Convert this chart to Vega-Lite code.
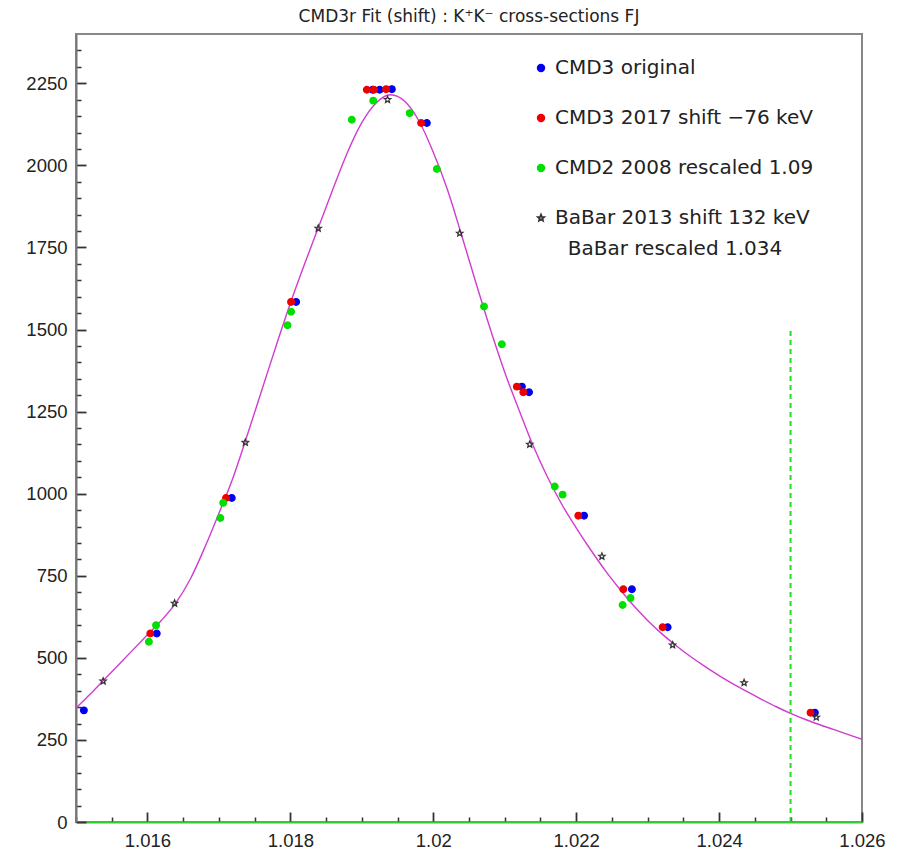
{
  "$schema": "https://vega.github.io/schema/vega-lite/v6.json",
  "width": 786,
  "height": 788,
  "autosize": {"type": "none"},
  "padding": {"left": 76, "top": 34, "right": 38, "bottom": 27},
  "background": "white",
  "title": {"text": "CMD3r Fit (shift) : K⁺K⁻ cross-sections FJ", "font": "DejaVu Sans", "fontSize": 17, "fontWeight": "normal", "color": "#222", "anchor": "middle", "offset": 8},
  "config": {"view": {"stroke": "#888", "strokeWidth": 2}},
  "resolve": {"axis": {"x": "independent", "y": "independent"}},
  "datasets": {
    "fit": [
      {"x": 1.0150, "y": 347}, {"x": 1.0152, "y": 390}, {"x": 1.0154, "y": 435}, {"x": 1.0156, "y": 480},
      {"x": 1.0158, "y": 525}, {"x": 1.0160, "y": 570}, {"x": 1.0162, "y": 615}, {"x": 1.0164, "y": 668},
      {"x": 1.0166, "y": 740}, {"x": 1.0168, "y": 835}, {"x": 1.0170, "y": 940}, {"x": 1.0172, "y": 1050},
      {"x": 1.0174, "y": 1180}, {"x": 1.0176, "y": 1315}, {"x": 1.0178, "y": 1450}, {"x": 1.0180, "y": 1580},
      {"x": 1.0182, "y": 1700}, {"x": 1.0184, "y": 1815}, {"x": 1.0186, "y": 1930}, {"x": 1.0188, "y": 2040},
      {"x": 1.0190, "y": 2130}, {"x": 1.0192, "y": 2190}, {"x": 1.0194, "y": 2215}, {"x": 1.0196, "y": 2195},
      {"x": 1.0198, "y": 2135}, {"x": 1.0200, "y": 2040}, {"x": 1.0202, "y": 1925}, {"x": 1.0204, "y": 1785},
      {"x": 1.0206, "y": 1640}, {"x": 1.0208, "y": 1500}, {"x": 1.0210, "y": 1370}, {"x": 1.0212, "y": 1255},
      {"x": 1.0214, "y": 1145}, {"x": 1.0216, "y": 1050}, {"x": 1.0218, "y": 967}, {"x": 1.0220, "y": 896},
      {"x": 1.0222, "y": 830}, {"x": 1.0224, "y": 768}, {"x": 1.0226, "y": 712}, {"x": 1.0228, "y": 660},
      {"x": 1.0230, "y": 614}, {"x": 1.0232, "y": 573}, {"x": 1.0234, "y": 537}, {"x": 1.0236, "y": 504},
      {"x": 1.0238, "y": 474}, {"x": 1.0240, "y": 446}, {"x": 1.0242, "y": 420}, {"x": 1.0244, "y": 396},
      {"x": 1.0246, "y": 373}, {"x": 1.0248, "y": 351}, {"x": 1.0250, "y": 331}, {"x": 1.0252, "y": 313},
      {"x": 1.0254, "y": 297}, {"x": 1.0256, "y": 282}, {"x": 1.0258, "y": 267}, {"x": 1.0260, "y": 252}
    ],
    "vline": [{"x": 1.025, "y": 0, "y2": 1500}],
    "pts": [
      {"s": "CMD3 original", "x": 1.01511, "y": 340},
      {"s": "CMD3 original", "x": 1.01613, "y": 574},
      {"s": "CMD3 original", "x": 1.01718, "y": 987},
      {"s": "CMD3 original", "x": 1.01808, "y": 1584},
      {"s": "CMD3 original", "x": 1.01915, "y": 2230},
      {"s": "CMD3 original", "x": 1.01925, "y": 2230},
      {"s": "CMD3 original", "x": 1.01942, "y": 2232},
      {"s": "CMD3 original", "x": 1.01991, "y": 2129},
      {"s": "CMD3 original", "x": 1.02124, "y": 1326},
      {"s": "CMD3 original", "x": 1.02134, "y": 1309},
      {"s": "CMD3 original", "x": 1.02211, "y": 933},
      {"s": "CMD3 original", "x": 1.02278, "y": 709},
      {"s": "CMD3 original", "x": 1.02328, "y": 593},
      {"s": "CMD3 original", "x": 1.02534, "y": 333},
      {"s": "CMD3 2017  shift −76 keV", "x": 1.01604, "y": 574},
      {"s": "CMD3 2017  shift −76 keV", "x": 1.01710, "y": 987},
      {"s": "CMD3 2017  shift −76 keV", "x": 1.01801, "y": 1584},
      {"s": "CMD3 2017  shift −76 keV", "x": 1.01907, "y": 2230},
      {"s": "CMD3 2017  shift −76 keV", "x": 1.01917, "y": 2230},
      {"s": "CMD3 2017  shift −76 keV", "x": 1.01934, "y": 2232},
      {"s": "CMD3 2017  shift −76 keV", "x": 1.01983, "y": 2129},
      {"s": "CMD3 2017  shift −76 keV", "x": 1.02117, "y": 1326},
      {"s": "CMD3 2017  shift −76 keV", "x": 1.02126, "y": 1309},
      {"s": "CMD3 2017  shift −76 keV", "x": 1.02203, "y": 933},
      {"s": "CMD3 2017  shift −76 keV", "x": 1.02266, "y": 709},
      {"s": "CMD3 2017  shift −76 keV", "x": 1.02321, "y": 593},
      {"s": "CMD3 2017  shift −76 keV", "x": 1.02528, "y": 333},
      {"s": "CMD2 2008 rescaled 1.09", "x": 1.01602, "y": 549},
      {"s": "CMD2 2008 rescaled 1.09", "x": 1.01612, "y": 599},
      {"s": "CMD2 2008 rescaled 1.09", "x": 1.01702, "y": 926},
      {"s": "CMD2 2008 rescaled 1.09", "x": 1.01706, "y": 972},
      {"s": "CMD2 2008 rescaled 1.09", "x": 1.01796, "y": 1513},
      {"s": "CMD2 2008 rescaled 1.09", "x": 1.01801, "y": 1554},
      {"s": "CMD2 2008 rescaled 1.09", "x": 1.01886, "y": 2139},
      {"s": "CMD2 2008 rescaled 1.09", "x": 1.01916, "y": 2197},
      {"s": "CMD2 2008 rescaled 1.09", "x": 1.01967, "y": 2159},
      {"s": "CMD2 2008 rescaled 1.09", "x": 1.02005, "y": 1989},
      {"s": "CMD2 2008 rescaled 1.09", "x": 1.02071, "y": 1570},
      {"s": "CMD2 2008 rescaled 1.09", "x": 1.02096, "y": 1455},
      {"s": "CMD2 2008 rescaled 1.09", "x": 1.02170, "y": 1022},
      {"s": "CMD2 2008 rescaled 1.09", "x": 1.02181, "y": 997},
      {"s": "CMD2 2008 rescaled 1.09", "x": 1.02265, "y": 661},
      {"s": "CMD2 2008 rescaled 1.09", "x": 1.02276, "y": 682},
      {"s": "BaBar 2013 shift 132 keV", "x": 1.01538, "y": 429},
      {"s": "BaBar 2013 shift 132 keV", "x": 1.01638, "y": 666},
      {"s": "BaBar 2013 shift 132 keV", "x": 1.01737, "y": 1156},
      {"s": "BaBar 2013 shift 132 keV", "x": 1.01839, "y": 1808},
      {"s": "BaBar 2013 shift 132 keV", "x": 1.01936, "y": 2200},
      {"s": "BaBar 2013 shift 132 keV", "x": 1.02037, "y": 1793},
      {"s": "BaBar 2013 shift 132 keV", "x": 1.02135, "y": 1150},
      {"s": "BaBar 2013 shift 132 keV", "x": 1.02236, "y": 809},
      {"s": "BaBar 2013 shift 132 keV", "x": 1.02335, "y": 539},
      {"s": "BaBar 2013 shift 132 keV", "x": 1.02435, "y": 424},
      {"s": "BaBar 2013 shift 132 keV", "x": 1.02536, "y": 319}
    ]
  },
  "layer": [
    {
      "data": {"name": "fit"},
      "mark": {"type": "line", "color": "#d03cd0", "strokeWidth": 1.4, "interpolate": "monotone", "clip": true},
      "encoding": {
        "x": {
          "field": "x", "type": "quantitative",
          "scale": {"domain": [1.015, 1.026], "nice": false, "zero": false},
          "axis": {
            "title": null, "orient": "bottom", "offset": -10, "domain": false,
            "values": [1.016, 1.018, 1.02, 1.022, 1.024, 1.026],
            "format": ".3~f",
            "labelFont": "Liberation Sans", "labelFontSize": 18.5, "labelColor": "#222",
            "labelPadding": 9, "labelFlush": false, "labelOverlap": false,
            "tickColor": "#333", "tickWidth": 1.8, "tickSize": 10,
            "grid": false
          }
        },
        "y": {
          "field": "y", "type": "quantitative",
          "scale": {"domain": [0, 2400], "nice": false},
          "axis": {
            "title": null, "orient": "left", "offset": -10, "domain": false,
            "values": [0, 250, 500, 750, 1000, 1250, 1500, 1750, 2000, 2250],
            "format": "d",
            "labelFont": "Liberation Sans", "labelFontSize": 18.5, "labelColor": "#222",
            "labelPadding": 9, "labelFlush": false, "labelOverlap": false,
            "tickColor": "#333", "tickWidth": 1.8, "tickSize": 10,
            "grid": false
          }
        }
      }
    },
    {
      "data": {"name": "vline"},
      "mark": {"type": "rule", "color": "#22dd22", "strokeWidth": 2, "strokeDash": [5, 4]},
      "encoding": {
        "x": {
          "field": "x", "type": "quantitative",
          "axis": {
            "title": null, "orient": "bottom", "offset": -5, "labels": false, "domain": false, "grid": false,
            "values": [1.015, 1.0155, 1.0165, 1.017, 1.0175, 1.0185, 1.019, 1.0195, 1.0205, 1.021, 1.0215, 1.0225, 1.023, 1.0235, 1.0245, 1.025, 1.0255],
            "tickColor": "#333", "tickWidth": 1.5, "tickSize": 5
          }
        },
        "y": {
          "field": "y", "type": "quantitative",
          "axis": {
            "title": null, "orient": "left", "offset": -5, "labels": false, "domain": false, "grid": false,
            "values": [50, 100, 150, 200, 300, 350, 400, 450, 550, 600, 650, 700, 800, 850, 900, 950, 1050, 1100, 1150, 1200, 1300, 1350, 1400, 1450, 1550, 1600, 1650, 1700, 1800, 1850, 1900, 1950, 2050, 2100, 2150, 2200, 2300, 2350],
            "tickColor": "#333", "tickWidth": 1.5, "tickSize": 5
          }
        },
        "y2": {"field": "y2"}
      }
    },
    {
      "data": {"name": "pts"},
      "mark": {"type": "point", "strokeWidth": 1.3, "opacity": 1, "fillOpacity": 1},
      "encoding": {
        "x": {"field": "x", "type": "quantitative",
              "axis": {"title": null, "orient": "bottom", "labels": false, "ticks": false, "grid": false, "domain": true, "domainColor": "#33cc33", "domainWidth": 2}},
        "y": {"field": "y", "type": "quantitative",
              "axis": {"title": null, "orient": "left", "labels": false, "ticks": false, "grid": false, "domain": true, "domainColor": "#777", "domainWidth": 2}},
        "shape": {
          "field": "s", "type": "nominal",
          "scale": {"domain": ["CMD3 original", "CMD3 2017  shift −76 keV", "CMD2 2008 rescaled 1.09", "BaBar 2013 shift 132 keV"],
                    "range": ["circle", "circle", "circle", "M0,-1L0.2645,-0.364L0.9511,-0.309L0.428,0.139L0.5878,0.809L0,0.45L-0.5878,0.809L-0.428,0.139L-0.9511,-0.309L-0.2645,-0.364Z"]},
          "legend": {"title": "BaBar rescaled 1.034"}
        },
        "fill": {
          "field": "s", "type": "nominal",
          "scale": {"domain": ["CMD3 original", "CMD3 2017  shift −76 keV", "CMD2 2008 rescaled 1.09", "BaBar 2013 shift 132 keV"],
                    "range": ["#0000ee", "#ee0000", "#00e000", "transparent"]},
          "legend": {"title": "BaBar rescaled 1.034"}
        },
        "stroke": {
          "field": "s", "type": "nominal",
          "scale": {"domain": ["CMD3 original", "CMD3 2017  shift −76 keV", "CMD2 2008 rescaled 1.09", "BaBar 2013 shift 132 keV"],
                    "range": ["#0000ee", "#ee0000", "#00e000", "#333333"]},
          "legend": {"title": "BaBar rescaled 1.034"}
        },
        "size": {
          "field": "s", "type": "nominal",
          "scale": {"domain": ["CMD3 original", "CMD3 2017  shift −76 keV", "CMD2 2008 rescaled 1.09", "BaBar 2013 shift 132 keV"],
                    "range": [44, 44, 18, 400]},
          "legend": {
            "title": "BaBar rescaled 1.034",
            "orient": "none", "legendX": 455, "legendY": 24,
            "padding": 0, "rowPadding": 30, "labelOffset": 4,
            "labelFont": "DejaVu Sans", "labelFontSize": 20, "labelColor": "#222", "labelLimit": 400,
            "titleOrient": "bottom", "titleAnchor": "middle", "titleFont": "DejaVu Sans", "titleFontSize": 20,
            "titleFontWeight": "normal", "titleColor": "#222", "titlePadding": 11, "titleLimit": 400,
            "symbolStrokeWidth": 1.8
          }
        }
      }
    }
  ]
}
